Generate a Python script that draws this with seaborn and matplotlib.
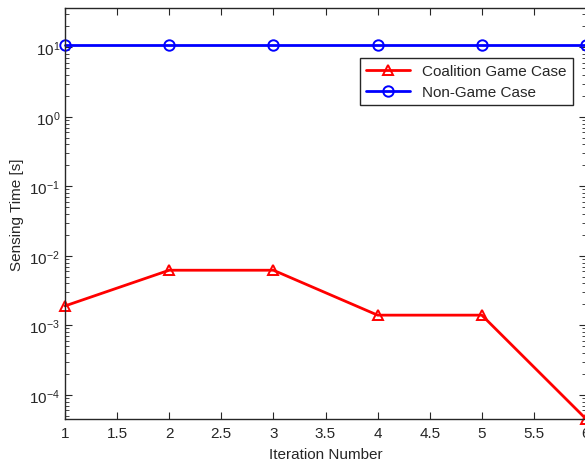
import pandas as pd
import matplotlib
matplotlib.use("Agg")
import matplotlib.pyplot as plt
import seaborn as sns

# Values
iterations = [1, 2, 3, 4, 5, 6]
coalition_time = [1.9e-3, 6.2e-3, 6.2e-3, 1.4e-3, 1.4e-3, 4.5e-5]
non_game_time = [10.8, 10.8, 10.8, 10.8, 10.8, 10.8]
series_names = ["Coalition Game Case", "Non-Game Case"]
x_ticks = [1, 1.5, 2, 2.5, 3, 3.5, 4, 4.5, 5, 5.5, 6]
x_tick_labels = ["1", "1.5", "2", "2.5", "3", "3.5", "4", "4.5", "5", "5.5", "6"]

df = pd.DataFrame({
    "iteration": iterations * 2,
    "time": coalition_time + non_game_time,
    "case": [series_names[0]] * len(iterations) + [series_names[1]] * len(iterations),
})

sns.set_style("ticks")
plt.rcParams['font.family'] = ['Liberation Sans', 'DejaVu Sans']
plt.rcParams['mathtext.fontset'] = 'custom'
plt.rcParams['mathtext.rm'] = 'Liberation Sans'
plt.rcParams['mathtext.it'] = 'Liberation Sans'
plt.rcParams['mathtext.default'] = 'regular'
plt.rcParams['axes.unicode_minus'] = False

fig = plt.figure(figsize=(5.85, 4.64), dpi=100)
ax = fig.add_axes([65 / 585, 44 / 464, 521 / 585, 411 / 464])

colors = {series_names[0]: "#ff0000", series_names[1]: "#0000ff"}
sns.lineplot(data=df, x="iteration", y="time", hue="case", style="case",
             palette=colors,
             markers={series_names[0]: "^", series_names[1]: "o"},
             dashes=False, linewidth=2, markersize=7.5, markerfacecolor="none",
             markeredgewidth=1.4, ax=ax, clip_on=False)

# hollow markers in series colour
for line, col in zip(ax.get_lines()[:2], colors.values()):
    line.set_markeredgecolor(col)
    line.set_markerfacecolor("none")

ax.set_yscale("log")
ax.set_xlim(1, 6)
ax.set_ylim(10 ** -4.348, 10 ** 1.565)
ax.set_xticks(x_ticks)
ax.set_xticklabels(x_tick_labels)
ax.set_yticks([1e-4, 1e-3, 1e-2, 1e-1, 1e0, 1e1])

for s in ax.spines.values():
    s.set_color("#262626")
    s.set_linewidth(1.0)
ax.tick_params(which="both", direction="in", top=True, right=True,
               colors="#262626", labelsize=11)
ax.tick_params(which="major", length=5)
ax.tick_params(which="minor", length=3)
ax.tick_params(axis="x", which="minor", top=False, bottom=False)
ax.tick_params(axis="x", pad=5)

ax.set_xlabel("Iteration Number", fontsize=11, color="#262626", labelpad=5)
ax.set_ylabel("Sensing Time [s]", fontsize=11, color="#262626", labelpad=4)

handles, labels = ax.get_legend_handles_labels()
for h, col in zip(handles, colors.values()):
    h.set_markeredgecolor(col)
    h.set_markerfacecolor("none")
leg = ax.legend(handles, labels, loc="upper right", bbox_to_anchor=(0.975, 0.878),
                fontsize=11, frameon=True, fancybox=False, framealpha=1,
                edgecolor="#262626", borderpad=0.4, handlelength=2.9,
                labelspacing=0.45, borderaxespad=0)
leg.get_frame().set_linewidth(1.0)

fig.savefig("out.png", dpi=100)
